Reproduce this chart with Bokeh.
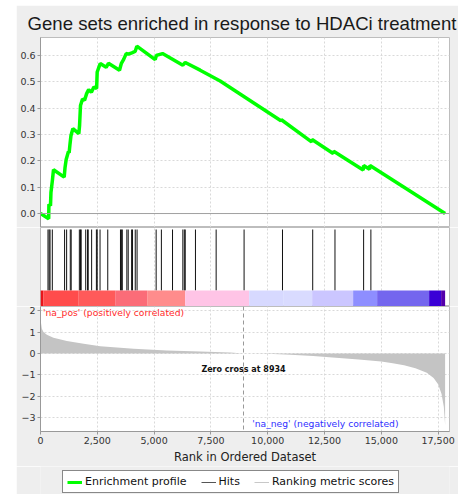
from bokeh.plotting import figure
from bokeh.models import (Range1d, FixedTicker, NumeralTickFormatter, Span,
                          Legend, LegendItem, Spacer)
from bokeh.layouts import column, row
from bokeh.embed import file_html
from bokeh.resources import INLINE
from bokeh.core.properties import value

TITLE = "Gene sets enriched in response to HDACi treatment"
X_LABEL = "Rank in Ordered Dataset"
POS_LABEL = "'na_pos' (positively correlated)"
NEG_LABEL = "'na_neg' (negatively correlated)"
ZERO_CROSS = 8934
ZERO_LABEL = "Zero cross at 8934"
LEGEND_LABELS = ["Enrichment profile", "Hits", "Ranking metric scores"]

# Running enrichment score (rank, ES)
es_rank = [0, 360, 370, 440, 460, 520, 572, 1043, 1080, 1130, 1230, 1260, 1300,
           1340, 1424, 1688, 1720, 1760, 1850, 1940, 2030, 2120, 2240, 2350,
           2470, 2495, 2627, 2890, 2990, 3477, 3560, 3660, 3771, 3870, 4020,
           4165, 4240, 5047, 5100, 5370, 6265, 6370, 7027, 7907, 10580, 10600,
           11930, 11950, 12880, 12900, 14200, 14220, 14480, 14500, 17807]
es_value = [0.0, -0.02, 0.035, 0.03, 0.08, 0.123, 0.166, 0.138, 0.175, 0.205,
            0.235, 0.23, 0.265, 0.295, 0.322, 0.303, 0.335, 0.41, 0.435, 0.43,
            0.455, 0.47, 0.46, 0.48, 0.475, 0.537, 0.569, 0.555, 0.57, 0.544,
            0.57, 0.585, 0.607, 0.605, 0.61, 0.615, 0.635, 0.584, 0.60, 0.607,
            0.563, 0.573, 0.544, 0.503, 0.352, 0.356, 0.272, 0.281, 0.228,
            0.236, 0.165, 0.182, 0.168, 0.182, 0.0]

# Ranks of gene-set members (hits)
hit_ranks = [330, 380, 420, 520, 1060, 1150, 1310, 1350, 1710, 1760, 1790,
             1990, 2070, 2100, 2250, 2460, 2495, 2620, 2960, 3520, 3560, 3600,
             3800, 3860, 4010, 4050, 4170, 4250, 5090, 5320, 5810, 6265, 6330,
             6370, 6820, 7730, 8960, 10650, 11980, 12960, 14220, 14540]

# Colour band segments along the ranked list
bar_start = [0, 119, 1659, 3287, 4695, 6367, 9183, 10679, 11955, 13759, 14815,
             17103, 17631]
bar_end = [119, 1659, 3287, 4695, 6367, 9183, 10679, 11955, 13759, 14815,
           17103, 17631, 17807]
bar_colors = ["#e8141a", "#ff4c4c", "#ff5a5a", "#fb6c78", "#ff8c8c", "#ffc4e6",
              "#d7d9ff", "#d9dbff", "#cbc6ff", "#8e8eff", "#7466ee", "#3a00d6",
              "#5500aa"]

# Ranked list metric
metric_rank = [0, 20, 60, 130, 280, 570, 1160, 1900, 2630, 4100, 5560, 7030,
               8350, 8934, 10000, 11000, 12000, 13000, 14000, 15000, 15500,
               16000, 16500, 17000, 17300, 17500, 17650, 17750, 17807]
metric_value = [1.8, 1.45, 1.16, 1.0, 0.88, 0.74, 0.58, 0.45, 0.34, 0.22, 0.14,
                0.09, 0.04, 0.0, -0.02, -0.06, -0.12, -0.2, -0.28, -0.38,
                -0.46, -0.56, -0.7, -0.9, -1.15, -1.45, -1.9, -2.5, -3.35]

x_ticks = [0, 2500, 5000, 7500, 10000, 12500, 15000, 17500]
es_ticks = [0.0, 0.1, 0.2, 0.3, 0.4, 0.5, 0.6]
metric_ticks = [-3, -2, -1, 0, 1, 2]

PANEL = "#eeeeee"
GRID = "#d9d9d9"
FONT = "DejaVu Sans"
W = 442
xr = Range1d(0, 18000)


def style(p):
    p.background_fill_color = "white"
    p.border_fill_color = PANEL
    p.outline_line_color = "#bdbdbd"
    p.min_border_left = 24
    p.min_border_right = 9
    p.xgrid.ticker = FixedTicker(ticks=x_ticks)
    p.xgrid.grid_line_color = GRID
    p.xgrid.grid_line_dash = "2 2"
    p.ygrid.grid_line_color = GRID
    p.ygrid.grid_line_dash = "2 2"


def style_axis(ax):
    ax.axis_line_color = "#999999"
    ax.major_tick_line_color = "#999999"
    ax.minor_tick_line_color = None
    ax.major_tick_out = 3
    ax.major_tick_in = 0
    ax.major_label_standoff = 2
    ax.major_label_text_font = FONT
    ax.major_label_text_font_size = "9.5px"
    ax.major_label_text_color = "#333333"


# ---- Top: enrichment profile
p1 = figure(width=W, height=222, x_range=xr, y_range=Range1d(-0.053, 0.668),
            output_backend="svg", toolbar_location=None, x_axis_location=None)
style(p1)
p1.min_border_top = 32
p1.min_border_bottom = 0
p1.title.text = TITLE
p1.title.text_font = "Liberation Sans"
p1.title.text_font_size = "18.6px"
p1.title.text_font_style = "normal"
p1.title.text_color = "#1a1a1a"
p1.title.align = "left"
p1.title.offset = -13
p1.title.standoff = 8
p1.yaxis.ticker = FixedTicker(ticks=es_ticks)
p1.ygrid.ticker = FixedTicker(ticks=es_ticks)
p1.yaxis.formatter = NumeralTickFormatter(format="0.0")
style_axis(p1.yaxis[0])
p1.add_layout(Span(location=0, dimension="width", line_color="#a0a0a0", line_width=1))
p1.line(es_rank, es_value, line_color="#00ff00", line_width=3.5)

# ---- Middle: hits and colour band
p2 = figure(width=W, height=79, x_range=xr, y_range=Range1d(0, 79),
            output_backend="svg", toolbar_location=None,
            x_axis_location=None, y_axis_location=None)
style(p2)
p2.min_border_top = 0
p2.min_border_bottom = 0
p2.ygrid.grid_line_color = None
p2.segment(x0=hit_ranks, y0=16, x1=hit_ranks, y1=77, line_color="#111111", line_width=1)
p2.quad(left=bar_start, right=bar_end, bottom=0, top=16, fill_color=bar_colors,
        line_color=None)

# ---- Bottom: ranked list metric
p3 = figure(width=W, height=160, x_range=xr, y_range=Range1d(-3.66, 2.2),
            output_backend="svg", toolbar_location=None)
style(p3)
p3.min_border_top = 0
p3.min_border_bottom = 35
p3.xaxis.ticker = FixedTicker(ticks=x_ticks)
p3.xaxis.formatter = NumeralTickFormatter(format="0,0")
p3.yaxis.ticker = FixedTicker(ticks=metric_ticks)
p3.ygrid.ticker = FixedTicker(ticks=metric_ticks)
style_axis(p3.xaxis[0])
style_axis(p3.yaxis[0])
p3.xaxis.axis_label = X_LABEL
p3.xaxis.axis_label_text_font = FONT
p3.xaxis.axis_label_text_font_size = "11.5px"
p3.xaxis.axis_label_text_font_style = "normal"
p3.xaxis.axis_label_text_color = "#222222"
p3.xaxis.axis_label_standoff = 3
p3.varea(x=metric_rank, y1=0, y2=metric_value, fill_color="#c4c4c4")
p3.add_layout(Span(location=ZERO_CROSS, dimension="height", line_color="#999999",
                   line_width=1, line_dash="4 3"))
p3.text(x=[ZERO_CROSS], y=[-0.75], text=[ZERO_LABEL], text_align="center",
        text_baseline="middle", text_font=value(FONT), text_font_size="8px",
        text_font_style="bold", text_color="#111111")
p3.text(x=[110], y=[1.92], text=[POS_LABEL], text_align="left",
        text_baseline="middle", text_font=value(FONT), text_font_size="9.2px",
        text_color="#ff2a2a")
p3.text(x=[9315], y=[-3.29], text=[NEG_LABEL], text_align="left",
        text_baseline="middle", text_font=value(FONT), text_font_size="9.2px",
        text_color="#3030ff")

# ---- Legend strip
p4 = figure(width=W, height=28, x_range=Range1d(0, 1), y_range=Range1d(0, 1),
            output_backend="svg", toolbar_location=None,
            x_axis_location=None, y_axis_location=None)
p4.background_fill_color = PANEL
p4.border_fill_color = PANEL
p4.outline_line_color = None
p4.xgrid.grid_line_color = None
p4.ygrid.grid_line_color = None
p4.min_border = 0
r_es = p4.line([5, 6], [5, 6], line_color="#00ff00", line_width=3)
r_hit = p4.line([5, 6], [5, 6], line_color="#555555", line_width=1)
r_met = p4.line([5, 6], [5, 6], line_color="#c8c8c8", line_width=1)
legend = Legend(items=[LegendItem(label=LEGEND_LABELS[0], renderers=[r_es]),
                       LegendItem(label=LEGEND_LABELS[1], renderers=[r_hit]),
                       LegendItem(label=LEGEND_LABELS[2], renderers=[r_met])],
                orientation="horizontal", location=(22, 1))
legend.label_text_font = FONT
legend.label_text_font_size = "11px"
legend.label_text_color = "#111111"
legend.border_line_color = "#111111"
legend.border_line_width = 1
legend.background_fill_color = "white"
legend.glyph_width = 15
legend.glyph_height = 12
legend.label_standoff = 3
legend.spacing = 14
legend.padding = 4
legend.margin = 0
legend.label_height = 12
p4.add_layout(legend, "center")

layout = column(Spacer(width=458, height=5),
                row(Spacer(width=16, height=10), column(p1, p2, p3, p4)))

open("out.html", "w").write(file_html(layout, INLINE))
